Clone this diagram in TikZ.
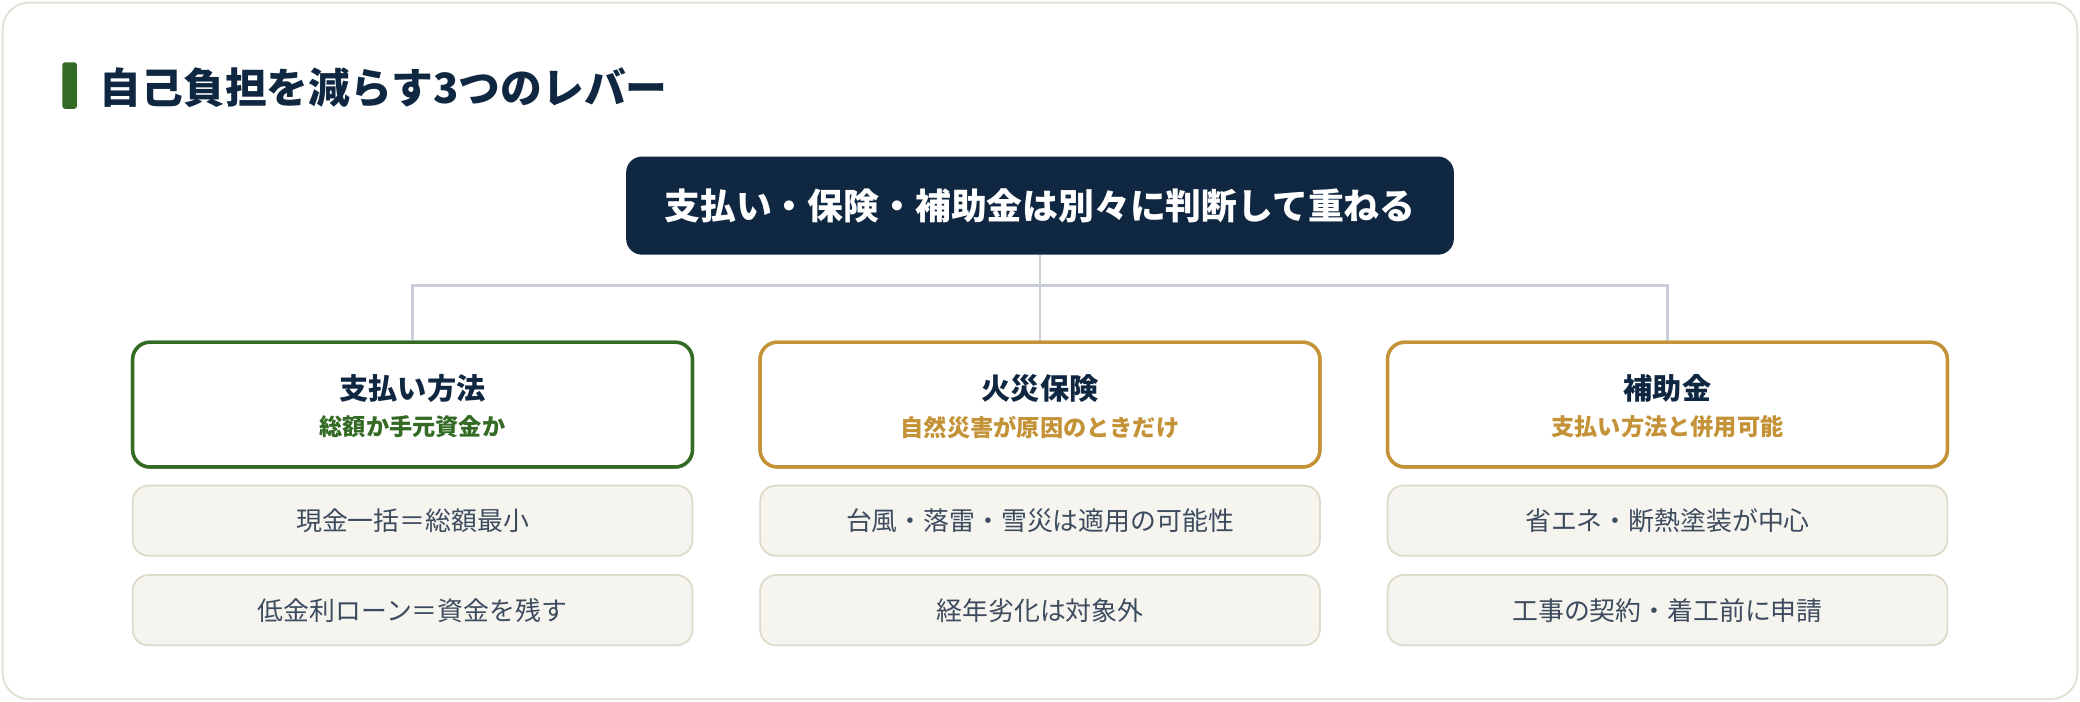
\documentclass[tikz,border=0pt]{standalone}
\usepackage{fontspec}
\setmainfont{Noto Sans CJK JP}
\definecolor{navy}{HTML}{0F2741}
\definecolor{leaf}{HTML}{346B24}
\definecolor{gold}{HTML}{C49237}
\definecolor{itemtxt}{HTML}{3D4B5E}
\definecolor{itemfill}{HTML}{F5F4EF}
\definecolor{itemline}{HTML}{DDDAC9}
\definecolor{conn}{HTML}{C9CED8}
\definecolor{cardline}{HTML}{E4E2D6}
\tikzset{
  catbox/.style={draw=#1, line width=2.6pt, fill=white, rounded corners=13pt, minimum width=422pt, minimum height=94pt, inner sep=0pt},
  itembox/.style={draw=itemline, line width=1.3pt, fill=itemfill, rounded corners=12pt, minimum width=422pt, minimum height=53pt, inner sep=0pt, text=itemtxt, font=\fontsize{19.5}{22}\selectfont},
  cattitle/.style={text=navy, font=\fontsize{22}{26}\bfseries\selectfont, inner sep=0pt},
  catsub/.style={text=#1, font=\fontsize{17.5}{20}\bfseries\selectfont, inner sep=0pt},
  link/.style={draw=conn, line width=2.2pt}
}
\begin{document}
\begin{tikzpicture}[x=1pt,y=1pt]
\useasboundingbox (0,0) rectangle (1568,-529);
\fill[white] (0,0) rectangle (1568,-529);
\draw[cardline, line width=1.5pt, fill=white, rounded corners=20pt] (2,-2) rectangle (1566,-527);
% title
\fill[leaf, rounded corners=2pt] (47,-47) rectangle (58,-82);
\node[anchor=west, text=navy, font=\fontsize{31.5}{36}\bfseries\selectfont, inner sep=0pt] (ttl) at (75,-66) {自己負担を減らす3つのレバー};
% top
\node[fill=navy, rounded corners=12pt, minimum width=624pt, minimum height=74pt, inner sep=0pt, text=white, font=\fontsize{27}{30}\bfseries\selectfont] (top) at (784,-155) {支払い・保険・補助金は別々に判断して重ねる};
% categories
\node[catbox=leaf] (c1) at (311,-305) {};
\node[catbox=gold] (c2) at (784,-305) {};
\node[catbox=gold] (c3) at (1257,-305) {};
\coordinate (hub) at (784,-215);
\draw[link] (top.south) -- (hub);
\draw[link] (hub) -| (c1.north);
\draw[link] (hub) -- (c2.north);
\draw[link] (hub) -| (c3.north);
\node[catbox=leaf] at (c1) {};
\node[catbox=gold] at (c2) {};
\node[catbox=gold] at (c3) {};
\node[cattitle] (t1) at ([yshift=12pt]c1.center) {支払い方法};
\node[catsub=leaf] (s1) at ([yshift=-17pt]c1.center) {総額か手元資金か};
\node[cattitle] (t2) at ([yshift=12pt]c2.center) {火災保険};
\node[catsub=gold] (s2) at ([yshift=-17pt]c2.center) {自然災害が原因のときだけ};
\node[cattitle] (t3) at ([yshift=12pt]c3.center) {補助金};
\node[catsub=gold] (s3) at ([yshift=-17pt]c3.center) {支払い方法と併用可能};
% items
\node[itembox] (i11) at (311,-392.5) {現金一括＝総額最小};
\node[itembox] (i12) at (311,-460) {低金利ローン＝資金を残す};
\node[itembox] (i21) at (784,-392.5) {台風・落雷・雪災は適用の可能性};
\node[itembox] (i22) at (784,-460) {経年劣化は対象外};
\node[itembox] (i31) at (1257,-392.5) {省エネ・断熱塗装が中心};
\node[itembox] (i32) at (1257,-460) {工事の契約・着工前に申請};
\end{tikzpicture}
\end{document}
